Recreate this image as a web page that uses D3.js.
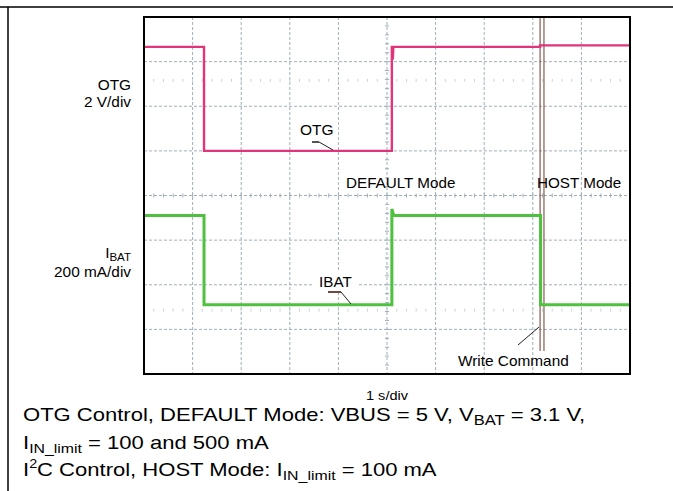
<!DOCTYPE html>
<html>
<head>
<meta charset="utf-8">
<script src="https://cdn.jsdelivr.net/npm/d3@7"></script>
<style>
  html, body { margin: 0; padding: 0; background: #fff; }
  svg { display: block; }
  text { font-family: "Liberation Sans", Arial, sans-serif; fill: #000; }
</style>
</head>
<body>
<svg id="chart" width="673" height="491"></svg>
<script>
// ---- Data ----
// time axis: 1 s/div, 10 divisions
const timeDomain = [0, 10];
// OTG trace (time in s, volts), 2 V/div, ground reference at division 5
const otgTime  = [0, 1.235, 1.235, 5.10, 5.10, 5.12, 5.12, 5.13, 8.15, 8.15, 10];
const otgVolts = [4.66, 4.66, 0.0, 0.0, 4.66, 4.66, 4.10, 4.66, 4.66, 4.73, 4.73];
// IBAT trace (time in s, mA), 200 mA/div, zero reference at division 1
const ibatTime = [0, 1.235, 1.235, 5.10, 5.10, 5.14, 8.16, 8.16, 10];
const ibatMA   = [510, 510, 110, 110, 540, 510, 510, 110, 110];
// write command marker times (s)
const writeCmd = [8.15, 8.23];
// channel settings
const otgPerDiv = 2, otgOffsetDiv = 5;
const ibatPerDiv = 200, ibatOffsetDiv = 1;

// ---- Layout ----
const svg = d3.select("#chart");
const L = 144, R = 630, T = 17, B = 374;

const x = d3.scaleLinear().domain(timeDomain).range([L, R]);
const y = d3.scaleLinear().domain([0, 8]).range([B, T]);

// page frame lines
svg.append("line").attr("x1", 0).attr("x2", 673).attr("y1", 7).attr("y2", 7)
  .attr("stroke", "#000").attr("stroke-width", 1.5);
svg.append("line").attr("x1", 8).attr("x2", 8).attr("y1", 7).attr("y2", 491)
  .attr("stroke", "#000").attr("stroke-width", 1.5);

// grid
const grid = svg.append("g");
const gridColor = "#9fb0bb";
d3.range(1, 10).forEach(i => {
  grid.append("line").attr("x1", x(i)).attr("x2", x(i)).attr("y1", T).attr("y2", B)
    .attr("stroke", gridColor).attr("stroke-width", 1).attr("stroke-dasharray", "3,2");
});
d3.range(1, 8).forEach(i => {
  grid.append("line").attr("x1", L).attr("x2", R).attr("y1", y(i)).attr("y2", y(i))
    .attr("stroke", gridColor).attr("stroke-width", 1).attr("stroke-dasharray", "3,2");
});
// minor ticks on the centre lines
const minor = d3.range(0, 10.01, 0.2);
minor.forEach(t => {
  grid.append("line").attr("x1", x(t)).attr("x2", x(t))
    .attr("y1", y(4) - 2).attr("y2", y(4) + 2)
    .attr("stroke", gridColor).attr("stroke-width", 1);
});
// faint extra tick rows
[6.58, 1.43].forEach(d => {
  minor.forEach(t => {
    grid.append("line").attr("x1", x(t)).attr("x2", x(t))
      .attr("y1", y(d) - 1.5).attr("y2", y(d) + 1.5)
      .attr("stroke", "#c9d3da").attr("stroke-width", 1);
  });
});
d3.range(0, 8.01, 0.2).forEach(d => {
  grid.append("line").attr("x1", x(5) - 2).attr("x2", x(5) + 2)
    .attr("y1", y(d)).attr("y2", y(d))
    .attr("stroke", gridColor).attr("stroke-width", 1);
});

// label helper
function label(g, txt, px, py, size, anchor, sx) {
  const t = g.append("text")
    .attr("transform", `translate(${px},${py}) scale(${sx || 1.1},1)`)
    .attr("font-size", size)
    .attr("text-anchor", anchor || "start");
  if (typeof txt === "string") { t.text(txt); }
  else {
    txt.forEach(part => {
      const s = t.append("tspan").text(part.t);
      if (part.sub) s.attr("font-size", size * part.sub).attr("dy", part.dy);
      if (part.back) s.attr("dy", part.back);
    });
  }
  return t;
}

// white boxes behind in-plot labels
function whiteBox(x0, y0, w, h) {
  svg.append("rect").attr("x", x0).attr("y", y0).attr("width", w).attr("height", h).attr("fill", "#fff");
}
whiteBox(296, 119, 42, 19);
whiteBox(314, 271, 43, 19);

// write command marker lines
writeCmd.forEach(t => {
  svg.append("line").attr("x1", x(t)).attr("x2", x(t)).attr("y1", T).attr("y2", 351)
    .attr("stroke", "#6e3b2f").attr("stroke-width", 1);
});

// traces
const otgLine = d3.line()
  .x((d, i) => x(otgTime[i]))
  .y(d => y(otgOffsetDiv + d / otgPerDiv));
svg.append("path").attr("d", otgLine(otgVolts))
  .attr("fill", "none").attr("stroke", "#e0357a").attr("stroke-width", 2.4);

const ibatLine = d3.line()
  .x((d, i) => x(ibatTime[i]))
  .y(d => y(ibatOffsetDiv + d / ibatPerDiv));
svg.append("path").attr("d", ibatLine(ibatMA))
  .attr("fill", "none").attr("stroke", "#4fc040").attr("stroke-width", 3);

// plot border
svg.append("rect").attr("x", L).attr("y", T).attr("width", R - L).attr("height", B - T)
  .attr("fill", "none").attr("stroke", "#000").attr("stroke-width", 2);

// in-plot labels
const g = svg.append("g");
label(g, "OTG", 300, 135, 14.5, "start", 1.07);
label(g, "DEFAULT Mode", 346, 188, 14.5, "start", 1.05);
label(g, "HOST Mode", 537, 188, 14.5, "start", 1.05);
label(g, "IBAT", 319, 287, 14.5, "start", 1.05);
label(g, "Write Command", 458, 366, 14.5, "start", 1.06);

// leader lines
const lead = [
  [[312, 142], [319, 142], [333, 150]],
  [[328, 292], [341, 292], [351, 304]],
  [[518, 345], [539, 327]]
];
lead.forEach(pts => {
  svg.append("path").attr("d", d3.line()(pts)).attr("fill", "none")
    .attr("stroke", "#222").attr("stroke-width", 1);
});
svg.append("line").attr("x1", 312).attr("x2", 319).attr("y1", 142).attr("y2", 142).attr("stroke", "#555").attr("stroke-width", 2);
svg.append("line").attr("x1", 328).attr("x2", 341).attr("y1", 292).attr("y2", 292).attr("stroke", "#6b4a40").attr("stroke-width", 2);

// channel labels at the left
label(g, "OTG", 131, 90, 14, "end", 1.1);
label(g, "2 V/div", 131, 107, 14, "end", 1.1);
label(g, [{t: "I"}, {t: "BAT", sub: 0.75, dy: 3}], 131, 258, 14, "end", 1.1);
label(g, "200 mA/div", 131, 277, 14, "end", 1.1);

// time scale label
label(g, "1 s/div", 387, 400, 13, "middle", 1.12);

// caption
label(g, [{t: "OTG Control, DEFAULT Mode: VBUS = 5 V, V"}, {t: "BAT", sub: 0.75, dy: 4}, {t: " = 3.1 V,", back: -4}], 23, 421, 19, "start", 1.16);
label(g, [{t: "I"}, {t: "IN_limit", sub: 0.72, dy: 4}, {t: " = 100 and 500 mA", back: -4}], 23, 449, 19, "start", 1.16);
label(g, [{t: "I"}, {t: "2", sub: 0.65, dy: -8}, {t: "C Control, HOST Mode: I", back: 8}, {t: "IN_limit", sub: 0.72, dy: 4}, {t: " = 100 mA", back: -4}], 23, 476, 19, "start", 1.16);
</script>
</body>
</html>
